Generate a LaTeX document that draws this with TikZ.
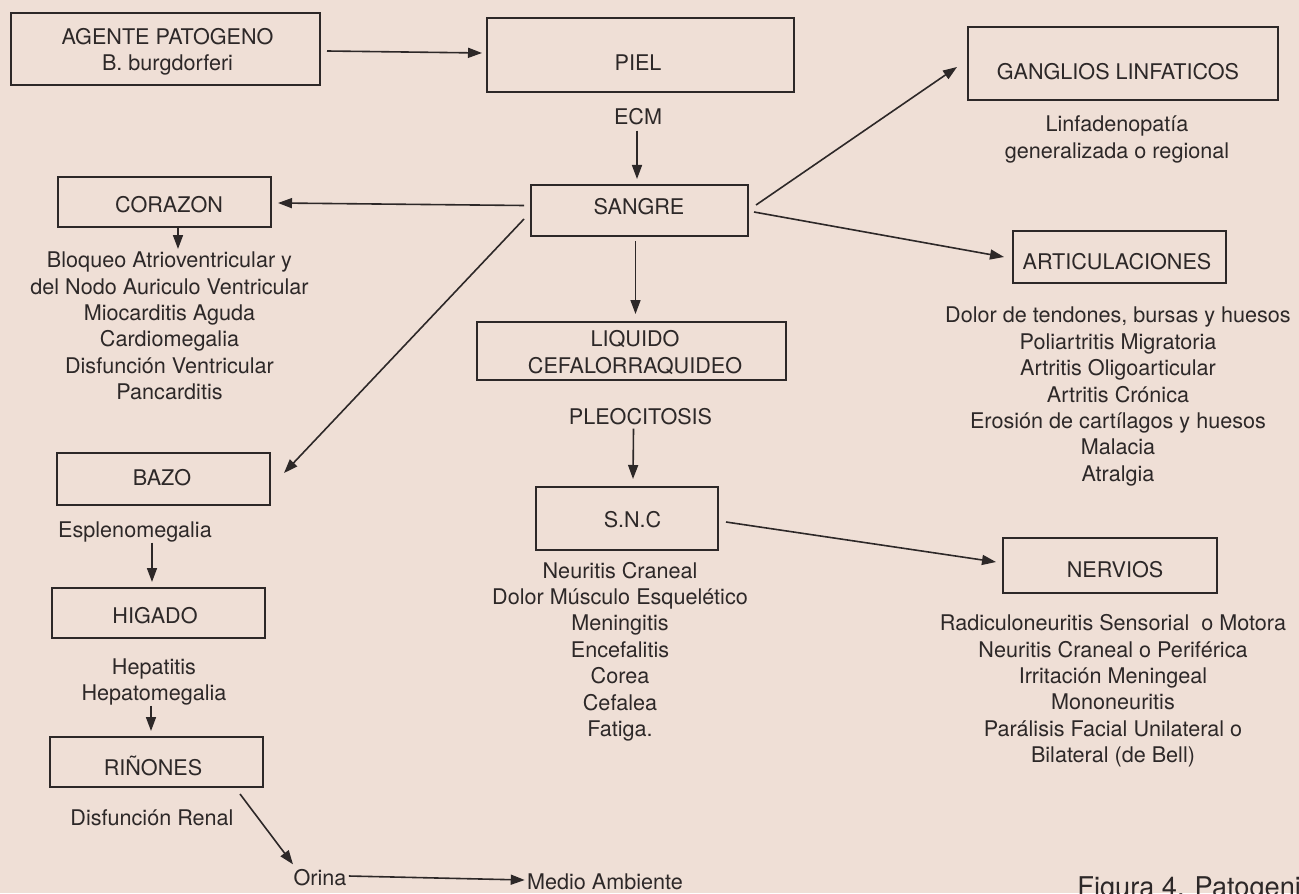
\documentclass[tikz,border=0pt]{standalone}
\usepackage{fontspec}
\setmainfont{TeX Gyre Heros}
\usetikzlibrary{arrows.meta,calc}
\definecolor{paper}{RGB}{239,223,214}
\definecolor{ink}{RGB}{45,40,40}
\begin{document}
\begin{tikzpicture}[x=0.5pt,y=-0.5pt,
  every node/.style={font=\fontsize{10.8pt}{13.2pt}\selectfont, text=ink, inner sep=0pt},
  box/.style={draw=ink, line width=1pt, rectangle, inner sep=0pt},
  lbl/.style={align=center},
  arr/.style={draw=ink, line width=0.8pt, -{Triangle[length=7pt,width=5pt]}}]
\useasboundingbox (0,0) rectangle (1299,893);
\fill[paper] (0,0) rectangle (1299,893);

% boxes
\node[box, minimum width=154.5pt, minimum height=36pt]   (agent)   at (165.5,49)   {};
\node[box, minimum width=153.5pt, minimum height=37pt]   (piel)    at (640.5,55)   {};
\node[box, minimum width=108.5pt, minimum height=25.5pt] (sangre)  at (639.5,210.5){};
\node[box, minimum width=155pt,   minimum height=36.5pt] (gang)    at (1123,63.5)  {};
\node[box, minimum width=106.5pt, minimum height=25pt]   (corazon) at (164.5,202)  {};
\node[box, minimum width=154.5pt, minimum height=29pt]   (liquido) at (631.5,351)  {};
\node[box, minimum width=91pt,    minimum height=31.5pt] (snc)     at (627,518.5)  {};
\node[box, minimum width=106.5pt, minimum height=26pt]   (artic)   at (1119.5,257) {};
\node[box, minimum width=107pt,   minimum height=27.5pt] (nervios) at (1110,565.5) {};
\node[box, minimum width=106.5pt, minimum height=26pt]   (bazo)    at (163.5,479)  {};
\node[box, minimum width=106.5pt, minimum height=25pt]   (higado)  at (158.5,613)  {};
\node[box, minimum width=106.5pt, minimum height=25pt]   (rinones) at (156.5,762)  {};

% box labels
\node[lbl] (agentT)   at (167.5,51.5) {AGENTE PATOGENO\\B. burgdorferi};
\node      (pielT)    at (638,63)     {PIEL};
\node      (sangreT)  at (639,207)    {SANGRE};
\node      (gangT)    at (1118,72)    {GANGLIOS LINFATICOS};
\node      (corazonT) at (169,205)    {CORAZON};
\node[lbl] (liquidoT) at (635,352.5)  {LIQUIDO\\CEFALORRAQUIDEO};
\node      (sncT)     at (632.5,520)  {S.N.C};
\node      (articT)   at (1117,262)   {ARTICULACIONES};
\node      (nerviosT) at (1115,570)   {NERVIOS};
\node      (bazoT)    at (162,478)    {BAZO};
\node      (higadoT)  at (155,616)    {HIGADO};
\node      (rinonesT) at (153,766)    {RIÑONES};

% free texts
\node (ecm)  at (638,117)   {ECM};
\node (pleo) at (640.5,417) {PLEOCITOSIS};
\node[lbl] (ganglist) at (1117,139.5) {Linfadenopatía\\generalizada o regional};
\node[lbl] (corlist) at (169.5,326) {Bloqueo Atrioventricular y\\del Nodo Auriculo Ventricular\\Miocarditis Aguda\\Cardiomegalia\\Disfunción Ventricular\\Pancarditis};
\node[lbl] (artlist) at (1118,396.5) {Dolor de tendones, bursas y huesos\\Poliartritis Migratoria\\Artritis Oligoarticular\\Artritis Crónica\\Erosión de cartílagos y huesos\\Malacia\\Atralgia};
\node[lbl] (snclist) at (620,651.5) {Neuritis Craneal\\Dolor Músculo Esquelético\\Meningitis\\Encefalitis\\Corea\\Cefalea\\Fatiga.};
\node[lbl] (nervlist) at (1113,691) {Radiculoneuritis Sensorial\ \ o Motora\\Neuritis Craneal o Periférica\\Irritación Meningeal\\Mononeuritis\\Parálisis Facial Unilateral o\\Bilateral (de Bell)};
\node (esp) at (135,532) {Esplenomegalia};
\node[lbl] (hep) at (154,682) {Hepatitis\\Hepatomegalia};
\node (renal) at (152,818) {Disfunción Renal};
\node (orina) at (320,878) {Orina};
\node (medio) at (605,882) {Medio Ambiente};
\node[anchor=base west, font=\fontsize{13.6pt}{16pt}\selectfont] (fig) at (1077,896) {Figura 4. Patogenia};

% connectors
\draw[arr] ($(agent.east)+(6,2)$) -- ($(piel.west)+(-4,-2)$);
\draw[arr] ($(ecm.south)+(-1,5)$) -- ($(sangre.north)+(-2.5,-5)$);
\draw[arr] ($(sangre.west)+(-6,-5)$) -- ($(corazon.east)+(6,1)$);
\draw[arr] ($(sangre.west)+(-6,8.5)$) -- ($(bazo.east)+(13,-6)$);
\draw[arr] ($(sangre.east)+(7,-5.5)$) -- ($(gang.west)+(-10,3.5)$);
\draw[arr] ($(sangre.east)+(5,1.5)$) -- ($(artic.west)+(-8,0)$);
\draw[arr] ($(sangre.south)+(-4,4)$) -- ($(liquido.north)+(4,-7)$);
\draw[arr] ($(pleo.south)+(-7,3)$) -- ($(snc.north)+(6,-7)$);
\draw[arr] ($(snc.east)+(7,3.5)$) -- ($(nervios.west)+(-6,-3.5)$);
\coordinate (c1) at ($(corazon.south)+(13.5,0)$);
\draw[arr] (c1) -- ++(0,21);
\draw[arr] ($(esp.south)+(17,0)$) -- ($(higado.north)+(-6.5,-5)$);
\draw[arr] ($(hep.south)+(-3,0)$) -- ($(rinones.north)+(-5.5,-5)$);
\draw[arr] ($(rinones.south)+(83.5,6)$) -- ($(orina.north)+(-27,-5)$);
\draw[arr] ($(orina.east)+(2,-2)$) -- ($(medio.west)+(-2,-2)$);
\end{tikzpicture}
\end{document}
